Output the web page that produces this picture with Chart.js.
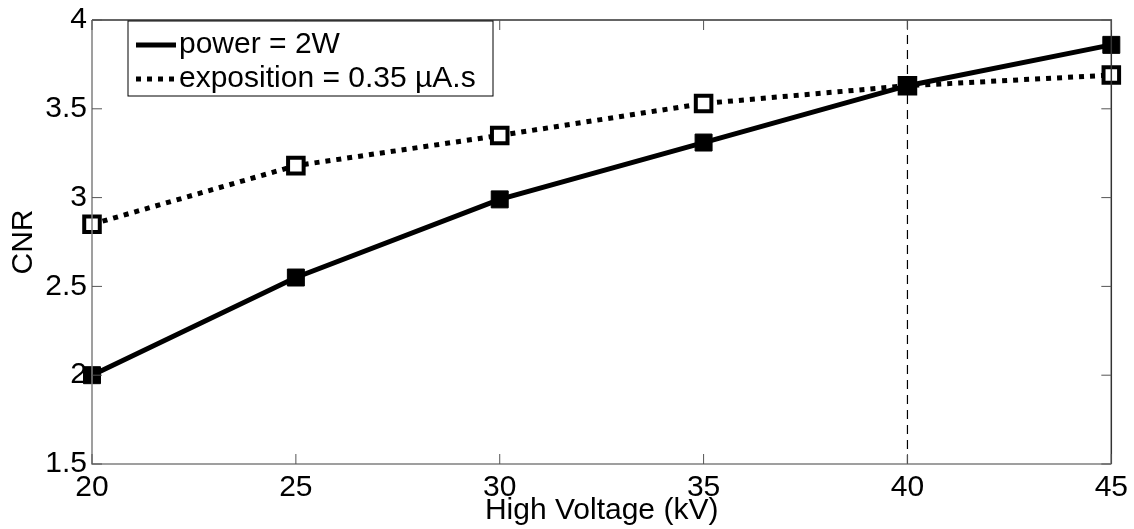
<!DOCTYPE html>
<html>
<head>
<meta charset="utf-8">
<script src="https://cdn.jsdelivr.net/npm/chart.js@4.4.0/dist/chart.umd.min.js"></script>
<style>
  html, body { margin: 0; padding: 0; background: #fff; }
  #wrap { width: 1134px; height: 529px; }
</style>
</head>
<body>
<div id="wrap"><canvas id="chart-cnr"></canvas></div>
<script>
const voltage = [20, 25, 30, 35, 40, 45];
const cnrPower = [2.0, 2.55, 2.99, 3.31, 3.63, 3.86];
const cnrExposition = [2.85, 3.18, 3.35, 3.53, 3.63, 3.69];
const markerLine = 40;
const legendLabels = ['power = 2W', 'exposition = 0.35 \u00b5A.s'];

const fontFamily = '"Liberation Sans", Arial, sans-serif';

// frame, inward ticks, dashed marker line and legend box (matlab look)
const matlabFrame = {
    id: 'matlabFrame',
    beforeDatasetsDraw(chart) {
        const {ctx, chartArea: a, scales: {x}} = chart;
        const px = x.getPixelForValue(markerLine);
        ctx.save();
        ctx.strokeStyle = '#000';
        ctx.lineWidth = 1.2;
        ctx.setLineDash([9, 6]);
        ctx.beginPath();
        ctx.moveTo(px, a.top);
        ctx.lineTo(px, a.bottom);
        ctx.stroke();
        ctx.restore();
    },
    afterDraw(chart) {
        const {ctx, chartArea: a, scales: {x, y}} = chart;
        ctx.save();
        ctx.lineWidth = 1.5;
        ctx.setLineDash([]);
        // top + right
        ctx.strokeStyle = '#333';
        ctx.beginPath();
        ctx.moveTo(a.left, a.top);
        ctx.lineTo(a.right, a.top);
        ctx.lineTo(a.right, a.bottom);
        ctx.stroke();
        // left + bottom
        ctx.strokeStyle = '#808080';
        ctx.beginPath();
        ctx.moveTo(a.left, a.top);
        ctx.lineTo(a.left, a.bottom);
        ctx.lineTo(a.right, a.bottom);
        ctx.stroke();
        // inward ticks
        const tl = 10;
        ctx.lineWidth = 1;
        ctx.strokeStyle = '#555';
        ctx.beginPath();
        x.ticks.forEach(t => {
            const p = x.getPixelForValue(t.value);
            ctx.moveTo(p, a.bottom); ctx.lineTo(p, a.bottom - tl);
            ctx.moveTo(p, a.top); ctx.lineTo(p, a.top + tl);
        });
        y.ticks.forEach(t => {
            const p = y.getPixelForValue(t.value);
            ctx.moveTo(a.left, p); ctx.lineTo(a.left + tl, p);
            ctx.moveTo(a.right, p); ctx.lineTo(a.right - tl, p);
        });
        ctx.stroke();

        // legend
        const bx = a.left + 36, by = a.top + 1, bw = 365, bh = 75;
        ctx.fillStyle = '#fff';
        ctx.fillRect(bx, by, bw, bh);
        ctx.strokeStyle = '#000';
        ctx.lineWidth = 1;
        ctx.strokeRect(bx, by, bw, bh);
        const rows = [by + 24, by + 58];
        ctx.lineWidth = 5;
        ctx.beginPath();
        ctx.moveTo(bx + 8, rows[0]); ctx.lineTo(bx + 48, rows[0]);
        ctx.stroke();
        ctx.setLineDash([5, 6]);
        ctx.beginPath();
        ctx.moveTo(bx + 8, rows[1]); ctx.lineTo(bx + 48, rows[1]);
        ctx.stroke();
        ctx.setLineDash([]);
        ctx.fillStyle = '#000';
        ctx.font = '30px ' + fontFamily;
        ctx.textBaseline = 'middle';
        ctx.textAlign = 'left';
        ctx.fillText(legendLabels[0], bx + 51, rows[0]);
        ctx.fillText(legendLabels[1], bx + 51, rows[1]);
        ctx.restore();
    }
};

function loadChartCnr(labels, power, exposition) {
    const ctx = document.getElementById('chart-cnr').getContext('2d');
    const myChart = new Chart(ctx, {
        type: 'line',
        data: {
            datasets: [{
                    label: legendLabels[0],
                    data: labels.map((v, i) => ({x: v, y: power[i]})),
                    borderColor: '#000',
                    borderWidth: 5,
                    clip: false,
                    pointStyle: 'rect',
                    pointRadius: 12,
                    pointBackgroundColor: '#000',
                    pointBorderColor: '#000',
                    pointBorderWidth: 1
                }, {
                    label: legendLabels[1],
                    data: labels.map((v, i) => ({x: v, y: exposition[i]})),
                    borderColor: '#000',
                    borderWidth: 5,
                    borderDash: [5, 6],
                    clip: false,
                    pointStyle: 'rect',
                    pointRadius: 11,
                    pointBackgroundColor: '#fff',
                    pointBorderColor: '#000',
                    pointBorderWidth: 4
                }]
        },
        options: {
            responsive: true,
            maintainAspectRatio: false,
            animation: false,
            layout: {
                padding: {top: 18, right: 22, left: 0, bottom: 0}
            },
            plugins: {
                legend: {display: false},
                tooltip: {enabled: false}
            },
            scales: {
                x: {
                    type: 'linear',
                    min: 20,
                    max: 45,
                    ticks: {
                        stepSize: 5,
                        color: '#000',
                        padding: 6,
                        maxRotation: 0,
                        font: {family: fontFamily, size: 30}
                    },
                    grid: {display: false, drawTicks: false},
                    border: {display: false},
                    title: {
                        display: true,
                        text: 'High Voltage (kV)',
                        color: '#000',
                        padding: {top: 0, bottom: 0},
                        font: {family: fontFamily, size: 30}
                    },
                    afterFit: scale => { scale.height = 65; }
                },
                y: {
                    min: 1.5,
                    max: 4,
                    ticks: {
                        stepSize: 0.5,
                        color: '#000',
                        padding: 5,
                        callback: value => String(value),
                        font: {family: fontFamily, size: 30, lineHeight: 1}
                    },
                    grid: {display: false, drawTicks: false},
                    border: {display: false},
                    title: {
                        display: true,
                        text: 'CNR',
                        color: '#000',
                        padding: {top: 6, bottom: 0},
                        font: {family: fontFamily, size: 30}
                    },
                    afterFit: scale => { scale.width = 92; }
                }
            }
        },
        plugins: [matlabFrame]
    });
}

loadChartCnr(voltage, cnrPower, cnrExposition);
</script>
</body>
</html>
